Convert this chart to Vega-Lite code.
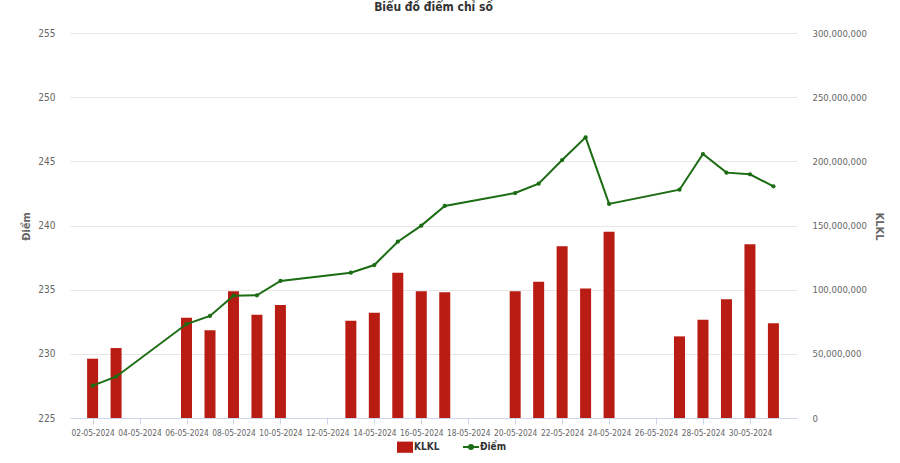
{
  "$schema": "https://vega.github.io/schema/vega-lite/v6.json",
  "width": 727,
  "height": 385,
  "autosize": {"type": "none"},
  "padding": {"left": 70, "top": 33, "right": 103, "bottom": 45},
  "background": "white",
  "title": {"text": "Biểu đồ điểm chỉ số", "fontSize": 12, "fontWeight": "bold", "color": "#333333", "font": "DejaVu Sans Condensed, Liberation Sans Narrow, sans-serif", "offset": 14, "anchor": "middle"},
  "data": {
    "values": [
      {"date": "2024-05-02", "diem": 227.52, "klkl": 46200000},
      {"date": "2024-05-03", "diem": 228.22, "klkl": 54500000},
      {"date": "2024-05-06", "diem": 232.32, "klkl": 78200000},
      {"date": "2024-05-07", "diem": 232.95, "klkl": 68300000},
      {"date": "2024-05-08", "diem": 234.53, "klkl": 98700000},
      {"date": "2024-05-09", "diem": 234.56, "klkl": 80500000},
      {"date": "2024-05-10", "diem": 235.68, "klkl": 88100000},
      {"date": "2024-05-13", "diem": 236.32, "klkl": 75800000},
      {"date": "2024-05-14", "diem": 236.92, "klkl": 82100000},
      {"date": "2024-05-15", "diem": 238.74, "klkl": 113200000},
      {"date": "2024-05-16", "diem": 239.99, "klkl": 98700000},
      {"date": "2024-05-17", "diem": 241.52, "klkl": 97900000},
      {"date": "2024-05-20", "diem": 242.53, "klkl": 98700000},
      {"date": "2024-05-21", "diem": 243.26, "klkl": 106200000},
      {"date": "2024-05-22", "diem": 245.10, "klkl": 133800000},
      {"date": "2024-05-23", "diem": 246.87, "klkl": 101000000},
      {"date": "2024-05-24", "diem": 241.68, "klkl": 145200000},
      {"date": "2024-05-27", "diem": 242.79, "klkl": 63600000},
      {"date": "2024-05-28", "diem": 245.57, "klkl": 76600000},
      {"date": "2024-05-29", "diem": 244.12, "klkl": 92500000},
      {"date": "2024-05-30", "diem": 243.99, "klkl": 135300000},
      {"date": "2024-05-31", "diem": 243.05, "klkl": 73800000}
    ]
  },
  "encoding": {
    "x": {
      "field": "date", "type": "temporal",
      "scale": {"type": "utc", "domain": [{"year": 2024, "month": 5, "date": 1, "hours": 6, "utc": true}, {"year": 2024, "month": 5, "date": 31, "hours": 19, "utc": true}]},
      "axis": {
        "title": null,
        "values": [
          {"year": 2024, "month": 5, "date": 2, "utc": true},
          {"year": 2024, "month": 5, "date": 4, "utc": true},
          {"year": 2024, "month": 5, "date": 6, "utc": true},
          {"year": 2024, "month": 5, "date": 8, "utc": true},
          {"year": 2024, "month": 5, "date": 10, "utc": true},
          {"year": 2024, "month": 5, "date": 12, "utc": true},
          {"year": 2024, "month": 5, "date": 14, "utc": true},
          {"year": 2024, "month": 5, "date": 16, "utc": true},
          {"year": 2024, "month": 5, "date": 18, "utc": true},
          {"year": 2024, "month": 5, "date": 20, "utc": true},
          {"year": 2024, "month": 5, "date": 22, "utc": true},
          {"year": 2024, "month": 5, "date": 24, "utc": true},
          {"year": 2024, "month": 5, "date": 26, "utc": true},
          {"year": 2024, "month": 5, "date": 28, "utc": true},
          {"year": 2024, "month": 5, "date": 30, "utc": true}
        ],
        "labelExpr": "utcFormat(datum.value, '%d-%m-%Y')",
        "labelFontSize": 8.3,
        "grid": false,
        "domainColor": "#ccd6eb",
        "tickColor": "#ccd6eb",
        "tickSize": 6,
        "labelPadding": 4,
        "labelFlush": false,
        "labelOverlap": false
      }
    }
  },
  "layer": [
    {
      "mark": {"type": "bar", "size": 11},
      "encoding": {
        "y": {
          "field": "klkl", "type": "quantitative",
          "scale": {"domain": [0, 300000000], "nice": false, "zero": true},
          "axis": {
            "orient": "right",
            "title": "KLKL",
            "values": [0, 50000000, 100000000, 150000000, 200000000, 250000000, 300000000],
            "format": ",d",
            "grid": false,
            "domain": false,
            "ticks": false,
            "labelPadding": 15,
            "labelFontSize": 9.5,
            "titleX": 76,
            "titleY": 193
          }
        },
        "color": {
          "datum": "KLKL",
          "scale": {"domain": ["KLKL", "Điểm"], "range": ["#b81c12", "#1b6c12"]},
          "legend": {
            "title": null,
            "orient": "none",
            "direction": "horizontal",
            "legendX": 330,
            "legendY": 409,
            "symbolSize": 256,
            "columnPadding": 19,
            "labelOffset": 4,
            "encode": {
              "symbols": {
                "update": {
                  "shape": {"signal": "datum.value === 'KLKL' ? 'M-1,-0.7H1V0.7H-1Z' : 'M-1,0H1M-0.25,0A0.25,0.25,0,1,1,0.25,0A0.25,0.25,0,1,1,-0.25,0'"},
                  "fill": {"signal": "datum.value === 'KLKL' ? '#b81c12' : '#1b6c12'"},
                  "stroke": {"signal": "datum.value === 'KLKL' ? '#b81c12' : '#1b6c12'"},
                  "strokeWidth": {"signal": "datum.value === 'KLKL' ? 0 : 2"},
                  "opacity": {"value": 1},
                  "fillOpacity": {"value": 1}
                }
              }
            }
          }
        }
      }
    },
    {
      "mark": {"type": "line", "strokeWidth": 2, "point": {"filled": true, "size": 18}},
      "encoding": {
        "y": {
          "field": "diem", "type": "quantitative",
          "scale": {"domain": [225, 255], "nice": false, "zero": false},
          "axis": {
            "orient": "left",
            "title": "Điểm",
            "values": [225, 230, 235, 240, 245, 250, 255],
            "grid": true,
            "gridColor": "#e6e6e6",
            "domain": false,
            "ticks": false,
            "labelPadding": 15,
            "titleX": -39,
            "titleY": 193
          }
        },
        "color": {"datum": "Điểm"}
      }
    }
  ],
  "resolve": {"scale": {"y": "independent"}},
  "config": {
    "view": {"stroke": null},
    "font": "DejaVu Sans Condensed, Liberation Sans Narrow, sans-serif",
    "axis": {
      "labelFont": "DejaVu Sans Condensed, Liberation Sans Narrow, sans-serif",
      "labelFontSize": 10,
      "labelColor": "#666666",
      "titleFont": "DejaVu Sans Condensed, Liberation Sans Narrow, sans-serif",
      "titleFontSize": 11,
      "titleFontWeight": "bold",
      "titleColor": "#666666"
    },
    "legend": {
      "labelFont": "DejaVu Sans Condensed, Liberation Sans Narrow, sans-serif",
      "labelFontSize": 10,
      "labelFontWeight": "bold",
      "labelColor": "#333333"
    }
  }
}
